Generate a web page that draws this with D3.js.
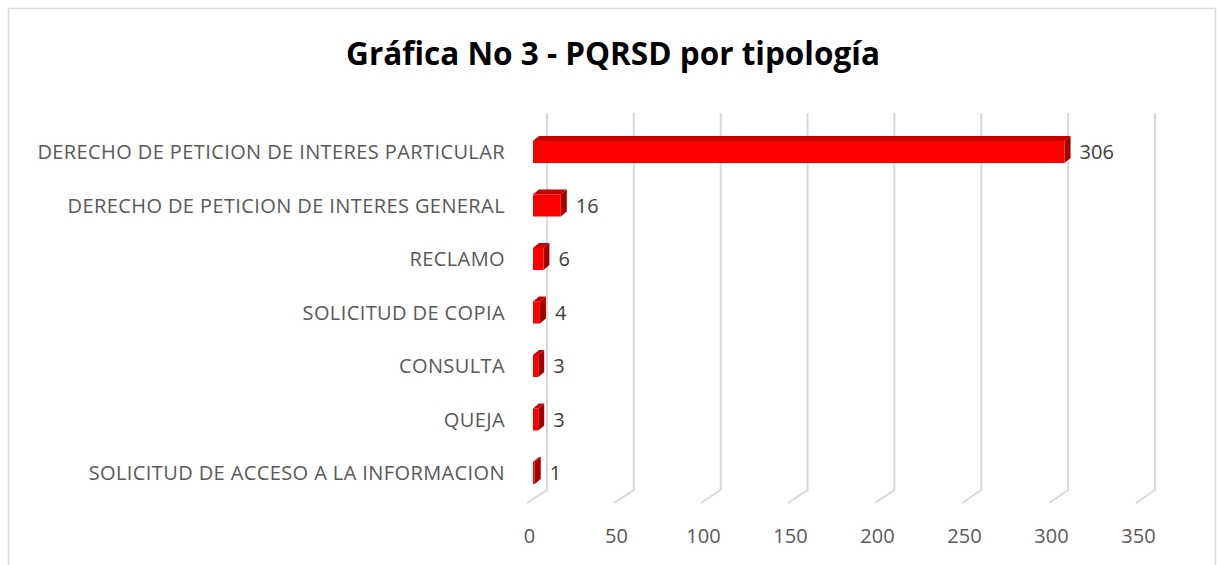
<!DOCTYPE html>
<html>
<head>
<meta charset="utf-8">
<script src="https://cdn.jsdelivr.net/npm/d3@7"></script>
<style>
    body { margin: 0; background: #fff; }
    text { font-family: "Open Sans", sans-serif; }
</style>
</head>
<body>
<svg id="chart" width="1217" height="565"></svg>
<script>
const categories = [
    "DERECHO DE PETICION DE INTERES PARTICULAR",
    "DERECHO DE PETICION DE INTERES GENERAL",
    "RECLAMO",
    "SOLICITUD DE COPIA",
    "CONSULTA",
    "QUEJA",
    "SOLICITUD DE ACCESO A LA INFORMACION"
];
const values = [306, 16, 6, 4, 3, 3, 1];
const tickValues = [0, 50, 100, 150, 200, 250, 300, 350];
const title = "Gráfica No 3 - PQRSD por tipología";

const svg = d3.select("#chart");

// chart frame
svg.append("rect")
    .attr("x", 8.5).attr("y", 8.5)
    .attr("width", 1207).attr("height", 600)
    .attr("fill", "none").attr("stroke", "#d9d9d9").attr("stroke-width", 1.5);

svg.append("text")
    .attr("x", 613).attr("y", 65)
    .attr("text-anchor", "middle")
    .attr("font-size", 31.5).attr("font-weight", "bold")
    .attr("fill", "#000")
    .text(title);

// 3d planes: back wall, bars in the middle, floor front edge
const xBack = d3.scaleLinear().domain([0, 350]).range([547, 1155]);
const xFront = d3.scaleLinear().domain([0, 350]).range([527, 1136]);
const xBar = d3.scaleLinear().domain([0, 350]).range([533, 1141]);
const y = d3.scalePoint().domain(categories).range([152, 473]);

const wallTop = 113, wallBottom = 490, floorFront = 503;
const barH = 22, dx = 6, dy = 5;

const grid = svg.append("g");
grid.selectAll("path")
    .data(tickValues)
    .enter()
    .append("path")
    .attr("d", d => `M${xBack(d)},${wallTop}V${wallBottom}L${xFront(d)},${floorFront}`)
    .attr("fill", "none")
    .attr("stroke", "#d9d9d9")
    .attr("stroke-width", 2);

// x axis labels at the front edge of the floor
const axis = svg.append("g")
    .attr("transform", "translate(2, 543)")
    .call(d3.axisBottom(xFront).tickValues(tickValues).tickSize(0).tickPadding(0));
axis.select(".domain").remove();
axis.selectAll("text")
    .attr("font-size", 20)
    .attr("font-family", "Open Sans, sans-serif")
    .attr("fill", "#595959")
    .attr("dy", "0");

// category labels
svg.append("g").selectAll("text")
    .data(categories)
    .enter()
    .append("text")
    .attr("x", 505)
    .attr("y", d => y(d))
    .attr("dy", "0.36em")
    .attr("text-anchor", "end")
    .attr("font-size", 20)
    .attr("letter-spacing", 0.4)
    .attr("fill", "#595959")
    .text(d => d);

// bars
const bars = svg.append("g").selectAll("g")
    .data(values)
    .enter()
    .append("g");

bars.append("path")   // top face
    .attr("d", (d, i) => {
        let x0 = xBar(0), x1 = xBar(d), t = y(categories[i]) - barH / 2;
        return `M${x0},${t}L${x0 + dx},${t - dy}L${x1 + dx},${t - dy}L${x1},${t}Z`;
    })
    .attr("fill", "#c80000");

bars.append("path")   // side face
    .attr("d", (d, i) => {
        let x1 = xBar(d), t = y(categories[i]) - barH / 2, b = t + barH;
        return `M${x1},${t}L${x1 + dx},${t - dy}L${x1 + dx},${b - dy}L${x1},${b}Z`;
    })
    .attr("fill", "#a50000");

bars.append("rect")   // front face
    .attr("x", xBar(0))
    .attr("y", (d, i) => y(categories[i]) - barH / 2)
    .attr("width", d => xBar(d) - xBar(0))
    .attr("height", barH)
    .attr("fill", "#ff0000");

// value labels
svg.append("g").selectAll("text")
    .data(values)
    .enter()
    .append("text")
    .attr("x", d => xBar(d) + dx + 9)
    .attr("y", (d, i) => y(categories[i]))
    .attr("dy", "0.36em")
    .attr("font-size", 20)
    .attr("fill", "#404040")
    .text(d => d);
</script>
</body>
</html>
